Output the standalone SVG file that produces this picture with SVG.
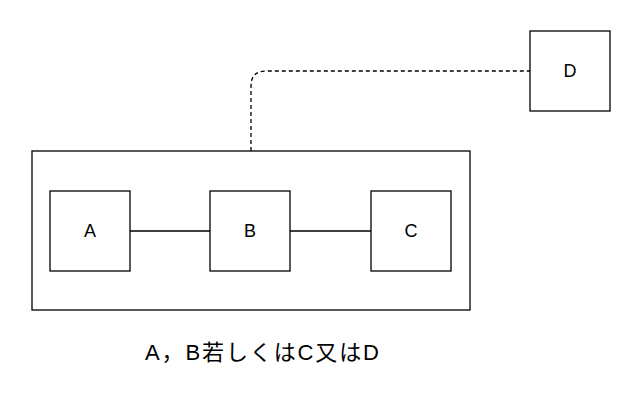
<svg xmlns="http://www.w3.org/2000/svg" width="642" height="404" viewBox="0 0 642 404">
<style>
rect{fill:#fff;stroke:#000;stroke-width:1.3}
text{font-family:"Liberation Sans","Noto Sans CJK JP",sans-serif;font-size:18px;text-anchor:middle;dominant-baseline:central}
.c{fill:none;stroke:#000;stroke-width:1.3}
</style>
<rect width="642" height="404" style="stroke:none"/>
<g id="group"><rect x="32" y="151" width="438" height="159"/></g>
<g id="connectors">
<path class="c" d="M130 231H210M290 231H371"/>
<path class="c" stroke-dasharray="4 3" d="M251 151V86Q251 71 266 71H530"/>
</g>
<g id="A"><rect x="50" y="191" width="80" height="80"/><text x="90" y="231">A</text></g>
<g id="B"><rect x="210" y="191" width="80" height="80"/><text x="250" y="231">B</text></g>
<g id="C"><rect x="371" y="191" width="80" height="80"/><text x="411" y="231">C</text></g>
<g id="D"><rect x="530" y="31" width="80" height="80"/><text x="570" y="71">D</text></g>
<text x="262" y="352" style="font-size:22px" textLength="234" lengthAdjust="spacing">A，B若しくはC又はD</text>
</svg>
